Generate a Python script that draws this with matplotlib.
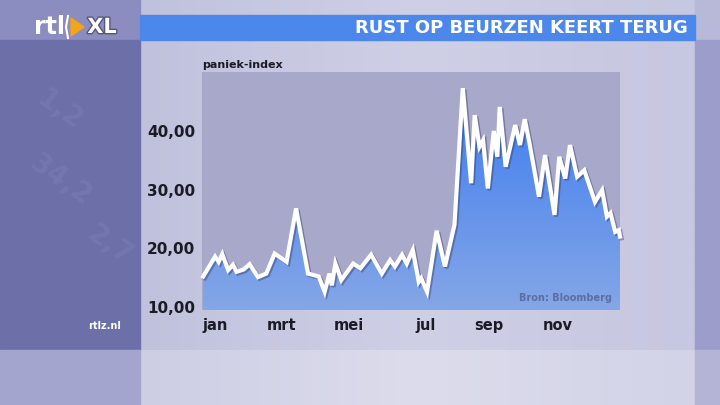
import numpy as np
import matplotlib
matplotlib.use("Agg")
from matplotlib import pyplot as plt
from matplotlib.patches import Rectangle, Polygon
import matplotlib.patheffects as pe

# paniek-index (VIX), x = day of year
days = [4, 14, 17, 20, 25, 29, 32, 38, 43, 50, 57, 64, 74, 82, 92, 101, 106, 110,
        112, 115, 120, 130, 136, 145, 154, 161, 165, 171, 175, 180, 185, 187, 192,
        200, 207, 215, 222, 229, 232, 236, 239, 243, 248, 251, 253, 258, 266, 270,
        274, 278, 286, 291, 299, 303, 308, 312, 318, 324, 333, 339, 343, 346, 350,
        353, 354]
vix = [15.2, 18.6, 17.7, 19.0, 16.3, 17.2, 16.0, 16.4, 17.3, 15.1, 15.7, 19.1,
       17.7, 26.8, 15.7, 15.2, 12.6, 15.7, 13.7, 17.4, 14.6, 17.4, 16.6, 18.9,
       15.7, 18.0, 16.9, 18.9, 17.4, 19.7, 14.3, 14.9, 12.6, 23.0, 16.9, 24.0,
       47.3, 31.1, 42.7, 37.3, 38.4, 30.2, 40.0, 35.6, 44.1, 33.9, 41.0, 37.6,
       42.0, 37.9, 28.8, 35.9, 25.7, 35.6, 31.9, 37.6, 32.2, 33.3, 27.9, 29.9,
       25.4, 26.0, 22.8, 23.1, 22.0]

month_days = [14, 70, 126, 191, 244, 302]
month_labels = ["jan", "mrt", "mei", "jul", "sep", "nov"]
y_ticks = [10, 20, 30, 40]
y_labels = ["10,00", "20,00", "30,00", "40,00"]

W, H = 720, 405
fig = plt.figure(figsize=(7.2, 4.05), dpi=100)

# background drawn in pixel coordinates
bg = fig.add_axes([0, 0, 1, 1])
bg.set_xlim(0, W)
bg.set_ylim(H, 0)
bg.axis("off")

grad = np.linspace(0, 1, 256).reshape(1, -1)
bg.imshow(grad, extent=[140, 695, 350, 0], cmap=matplotlib.colors.LinearSegmentedColormap.from_list(
    "c", ["#c0c1dc", "#cfd0e6", "#c6c7e0"]), aspect="auto", zorder=0)
bg.imshow(grad, extent=[140, 695, 405, 350], cmap=matplotlib.colors.LinearSegmentedColormap.from_list(
    "b", ["#cdcee4", "#dcdcec", "#d2d3e7"]), aspect="auto", zorder=0)
bg.add_patch(Rectangle((0, 0), 140, 40, color="#8b8dc0", zorder=1))
bg.add_patch(Rectangle((0, 40), 140, 310, color="#6d6fa9", zorder=1))
bg.add_patch(Rectangle((0, 350), 140, 55, color="#a3a5cf", zorder=1))
bg.add_patch(Rectangle((695, 0), 25, 40, color="#b8b9d8", zorder=1))
bg.add_patch(Rectangle((695, 40), 25, 310, color="#9c9dca", zorder=1))
bg.add_patch(Rectangle((695, 350), 25, 55, color="#b3b4d6", zorder=1))
bg.add_patch(Rectangle((140, 15), 555, 25, color="#4c87ec", zorder=2))

# faint watermark digits in the left panel
for s, x, y in [("1,2", 60, 110), ("34,2", 60, 180), ("2,7", 110, 245)]:
    bg.text(x, y, s, color="#8587bd", fontsize=20, fontweight="bold", rotation=-35,
            ha="center", va="center", alpha=0.3, zorder=1)

bg.text(688, 28, "RUST OP BEURZEN KEERT TERUG", color="white", fontsize=13,
        fontweight="bold", ha="right", va="center", zorder=3)

# logo
bg.text(50, 27, "rtl", color="white", fontsize=17, fontweight="bold", ha="center",
        va="center", zorder=3)
bg.plot([68, 66, 68], [16, 27, 38], color="white", lw=1.5, zorder=3)
bg.add_patch(Polygon([[71, 18], [84, 27], [71, 36]], color="#f2a51a", zorder=3))
bg.text(102, 27, "XL", color="white", fontsize=15, fontweight="bold", ha="center",
        va="center", zorder=3,
        path_effects=[pe.withStroke(linewidth=2, foreground="#55577a")])
bg.text(105, 326, "rtlz.nl", color="white", fontsize=7, fontweight="bold",
        ha="center", va="center", zorder=3)

# chart
ax = fig.add_axes([202 / W, 1 - 310 / H, 418 / W, 238 / H])
ax.set_xlim(3, 354)
ax.set_ylim(9.49, 50.05)
ax.set_facecolor("#a8a9ca")
for sp in ax.spines.values():
    sp.set_visible(False)

poly = ax.fill_between(days, vix, 0, color="none")
fill_grad = np.linspace(1, 0, 256).reshape(-1, 1)
img = ax.imshow(fill_grad, extent=[3, 354, 9.49, 48],
                cmap=matplotlib.colors.LinearSegmentedColormap.from_list(
                    "f", ["#85a6e6", "#3b7cf1"]), aspect="auto", zorder=1)
img.set_clip_path(poly.get_paths()[0], transform=ax.transData)

ax.plot(days, vix, color="white", lw=3.0, solid_joinstyle="miter", zorder=3,
        clip_on=False,
        path_effects=[pe.SimpleLineShadow(offset=(1.2, -1.2), shadow_color="#30305a",
                                          alpha=0.4), pe.Normal()])

ax.set_yticks(y_ticks)
ax.set_yticklabels(y_labels)
ax.set_xticks(month_days)
ax.set_xticklabels(month_labels)
ax.tick_params(length=0, colors="#1b1b26", labelsize=10.5)
ax.tick_params(axis="y", pad=5, labelsize=11)
ax.tick_params(axis="x", pad=6)
for lab in ax.get_xticklabels() + ax.get_yticklabels():
    lab.set_fontweight("bold")

ax.text(0.0, 1.01, "paniek-index", transform=ax.transAxes, fontsize=8,
        fontweight="bold", color="#1b1b26", ha="left", va="bottom")
ax.text(0.98, 0.05, "Bron: Bloomberg", transform=ax.transAxes, fontsize=7,
        fontweight="bold", color="#5a6ea6", ha="right", va="center", zorder=4)

fig.savefig("out.png", dpi=100)
